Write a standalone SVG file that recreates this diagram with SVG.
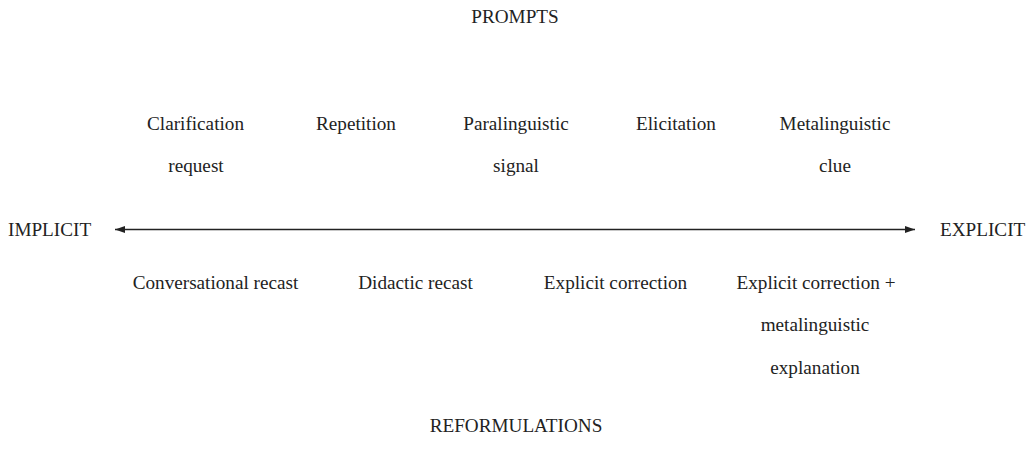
<svg xmlns="http://www.w3.org/2000/svg" width="1030" height="451" viewBox="0 0 1030 451">
<style>
text{font-family:"Liberation Serif","Times New Roman",serif;font-size:19.2px;fill:#222;text-anchor:middle}
.s{text-anchor:start}
.line{stroke:#222;stroke-width:1.4;fill:none}
</style>
<defs>
<marker id="ah" viewBox="0 0 10 7" refX="10" refY="3.5" markerWidth="10" markerHeight="7" markerUnits="userSpaceOnUse" orient="auto-start-reverse">
<path d="M0,0 L10,3.5 L0,7 Z" fill="#222"/>
</marker>
</defs>
<rect width="1030" height="451" fill="#fff"/>
<g id="connectors">
<line class="line" x1="115" y1="229.5" x2="915" y2="229.5" marker-start="url(#ah)" marker-end="url(#ah)"/>
</g>
<g id="prompts"><text x="515" y="23">PROMPTS</text></g>
<g id="clarification"><text x="195.5" y="129.5">Clarification</text><text x="196" y="172">request</text></g>
<g id="repetition"><text x="356" y="129.5">Repetition</text></g>
<g id="paralinguistic"><text x="516" y="129.5">Paralinguistic</text><text x="516" y="172">signal</text></g>
<g id="elicitation"><text x="676" y="129.5">Elicitation</text></g>
<g id="metalinguistic-clue"><text x="835" y="129.5">Metalinguistic</text><text x="835" y="172">clue</text></g>
<g id="implicit"><text class="s" x="8" y="236">IMPLICIT</text></g>
<g id="explicit"><text class="s" x="940" y="236">EXPLICIT</text></g>
<g id="conversational-recast"><text x="215.5" y="289">Conversational recast</text></g>
<g id="didactic-recast"><text x="415.5" y="289">Didactic recast</text></g>
<g id="explicit-correction"><text x="615.5" y="289">Explicit correction</text></g>
<g id="explicit-correction-meta"><text x="816" y="289">Explicit correction +</text><text x="815" y="331">metalinguistic</text><text x="815" y="374">explanation</text></g>
<g id="reformulations"><text x="516" y="432">REFORMULATIONS</text></g>
</svg>
